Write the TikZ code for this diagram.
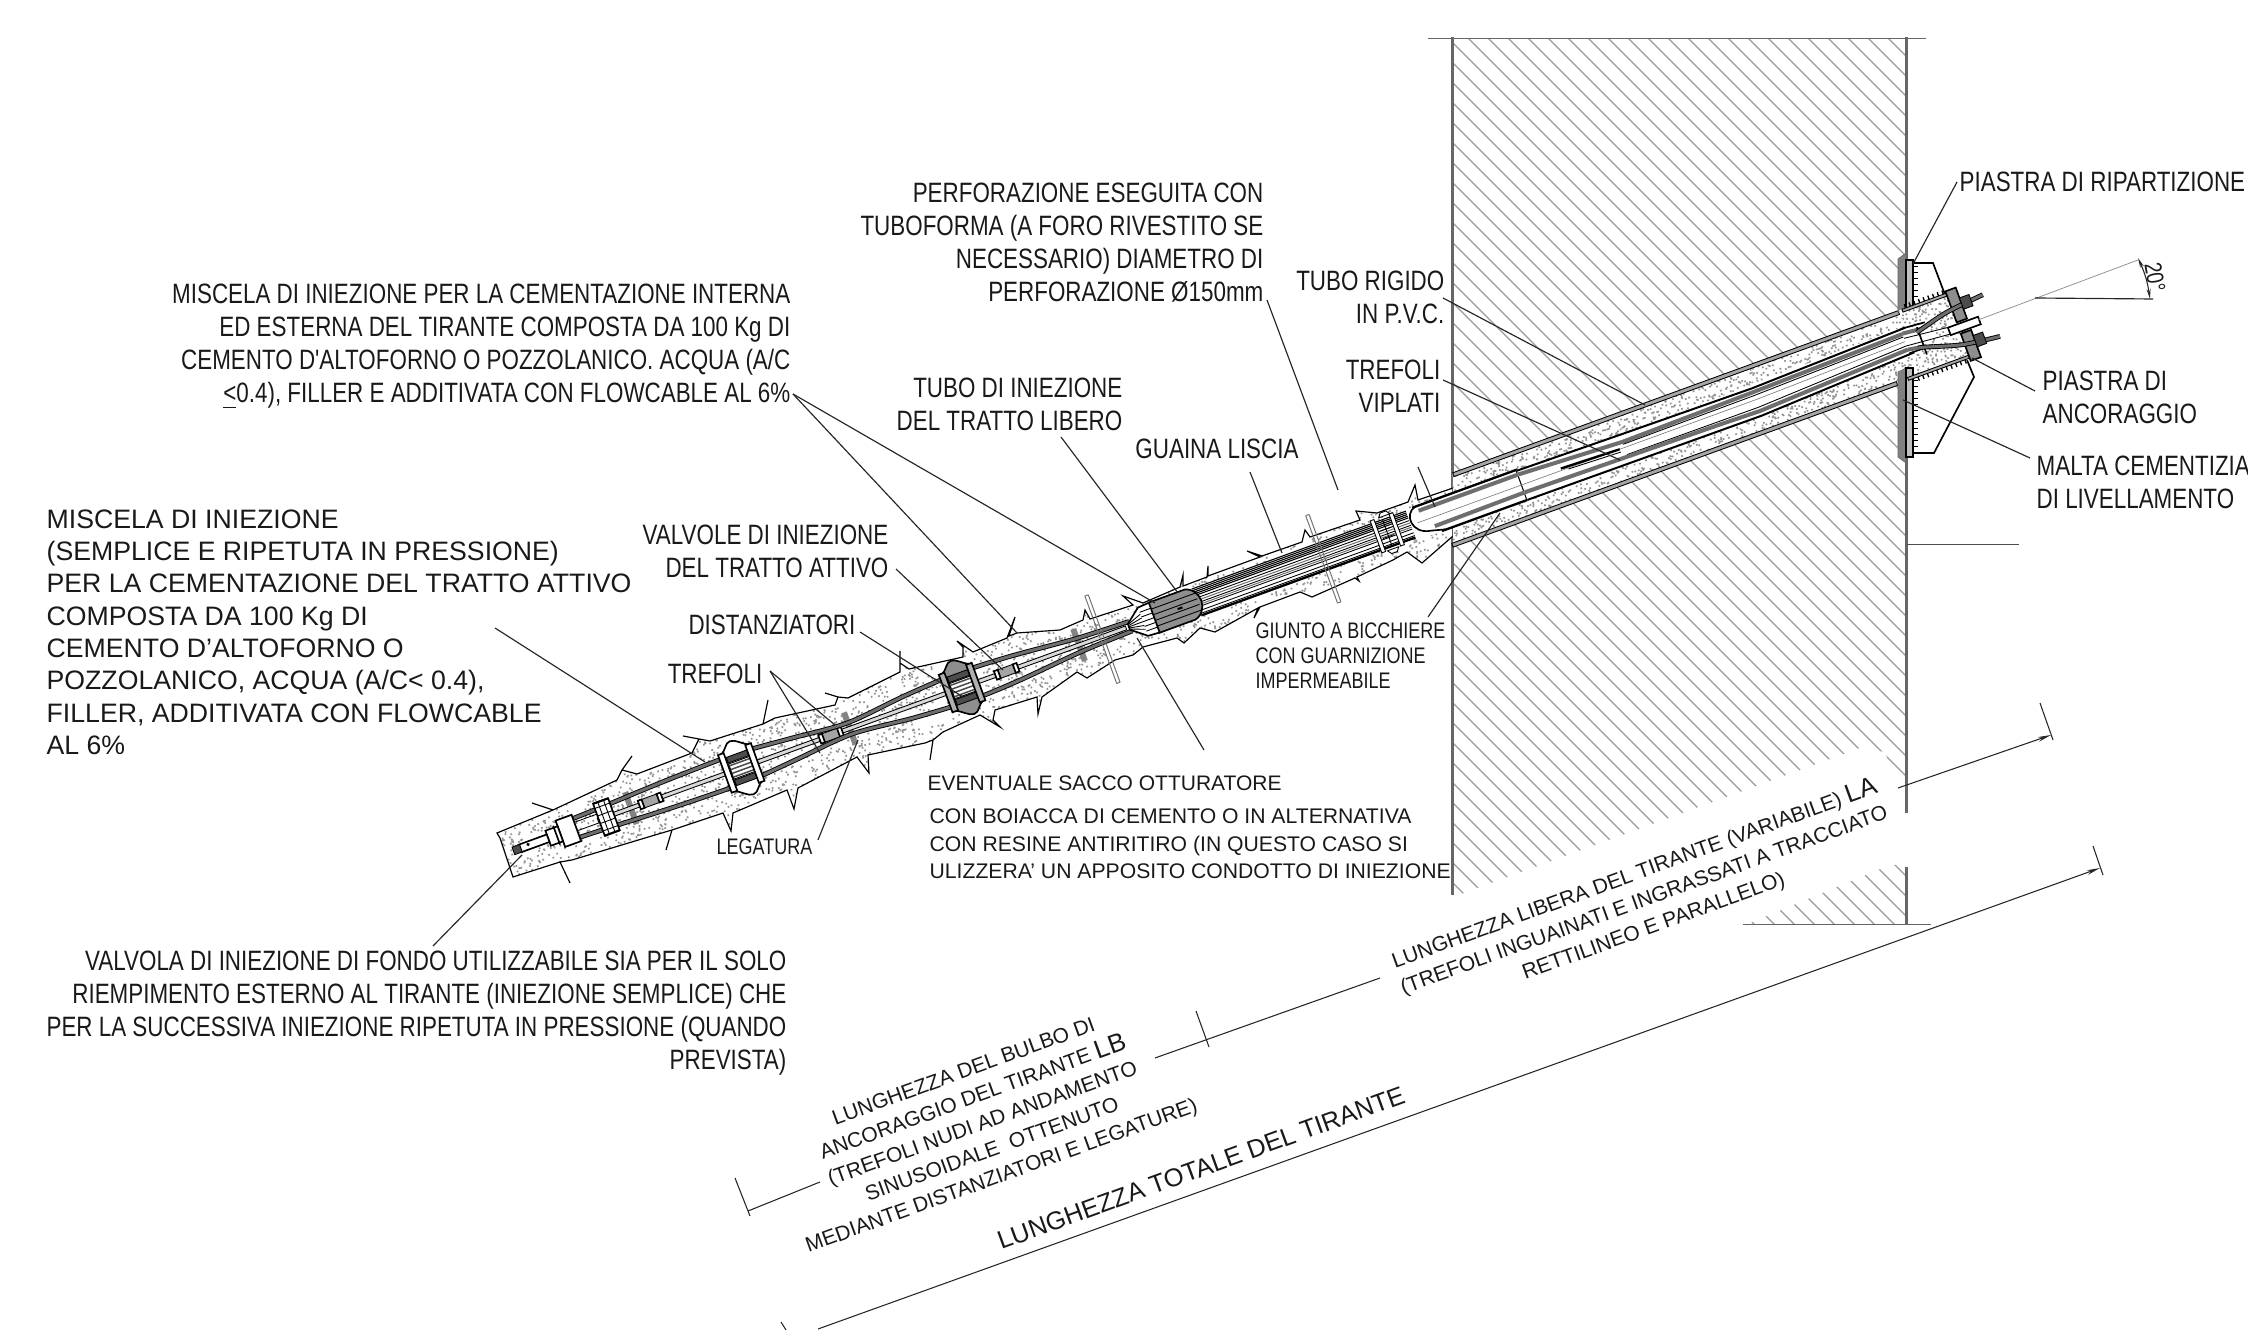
\documentclass[tikz,border=0pt]{standalone}
\usepackage{fontspec}
\setmainfont{Liberation Sans}
\newfontfamily\nf[FakeStretch=0.8]{Liberation Sans}
\usetikzlibrary{arrows.meta}
\newcommand\fnarrow{\nf\fontsize{8.4}{9.9}\selectfont}
\newcommand\fsmall{\nf\fontsize{6.75}{7.5}\selectfont}
\newcommand\fplain{\fontsize{8}{9.7}\selectfont}
\newcommand\fmid{\fontsize{6.3}{8.3}\selectfont}
\definecolor{wallc}{HTML}{666666}
\definecolor{hatchc}{HTML}{999999}
\definecolor{speck}{HTML}{959595}
\definecolor{strandc}{HTML}{6E6E6E}
\definecolor{steelc}{HTML}{8E8E8E}
\tikzset{
  lab/.style={inner sep=0pt,font=\fnarrow,text=black!90},
  labr/.style={lab,align=right,anchor=east},
  labl/.style={lab,align=left,anchor=west},
  leader/.style={draw=black!85,line width=0.35pt},
  wallline/.style={draw=wallc,line width=0.9pt},
  strand/.style={draw=black,line width=0.27pt,double=strandc,double distance=0.9pt},
  thin1/.style={line width=0.26pt,draw=black},
  thick1/.style={line width=0.5pt,draw=black},
  gband/.style={line width=1.2pt,draw=strandc},
  dimline/.style={draw=black!85,line width=0.32pt},
  tiebar/.style={line width=1.8pt,draw=strandc!85},
}
% spacer: #1 position along the axis, #2 fill of lobes, #3 fill of bars
\newcommand\spacerL[3]{%
  \filldraw[fill=#2,thick1] (#1-16,-19) .. controls (#1-8,-22) and (#1-8,-29) .. (#1-2,-29) .. controls (#1+4,-29) and (#1+8,-22) .. (#1+16,-19)
     -- (#1+16,19) .. controls (#1+8,22) and (#1+8,29) .. (#1+2,29) .. controls (#1-4,29) and (#1-8,22) .. (#1-16,19) -- cycle;
  \filldraw[fill=white,thin1] (#1-11,-8) rectangle (#1+11,8);
  \filldraw[fill=black!70,thin1] (#1-11,-15) rectangle (#1+11,-9);
  \filldraw[fill=black!70,thin1] (#1-11,15) rectangle (#1+11,9);
  \foreach \q in {-6,-2,2,6}{\draw[black!70,line width=0.45pt] (#1-11,\q) -- (#1+11,\q);}
  \filldraw[fill=#3,thick1] (#1-18,-20) rectangle (#1-12,20);
  \filldraw[fill=#3,thick1] (#1+11,-20) rectangle (#1+17,20);
}
\newcommand\valveS[1]{%
  \filldraw[fill=steelc!80,thin1] (#1-11,-4.5) rectangle (#1+11,4.5);
  \filldraw[fill=white,thick1] (#1-12,-4.5) rectangle (#1-8,4.5);
  \filldraw[fill=white,thick1] (#1+8,-4.5) rectangle (#1+12,4.5);
}
\def\groutpath{(500,838) -- (497,833) -- (553,810) -- (532,803) -- (553,810) -- (617,780) -- (622,770) -- (632,756) -- (622,770) -- (637,774) -- (692,753) -- (699,739) -- (683,736) -- (699,739) -- (710,741) -- (763,724) -- (768,700) -- (763,724) -- (775,718) -- (835,705) -- (838,697) -- (825,693) -- (838,697) -- (848,698) -- (900,672) -- (900,651) -- (900,663) -- (909,669) -- (963,657) -- (963,647) -- (957,641) -- (973,652) -- (1007,638) -- (1015,617) -- (1009,636) -- (1017,633) -- (1060,630) -- (1083,620) -- (1085,610) -- (1090,619) -- (1133,605) -- (1123,596) -- (1143,603) -- (1180,587) -- (1183,575) -- (1183,586) -- (1207,577) -- (1208,566) -- (1208,576) -- (1260,557) -- (1247,551) -- (1262,556) -- (1302,542) -- (1305,530) -- (1310,537) -- (1360,520) -- (1356,511) -- (1377,513) -- (1408,502) -- (1415,485) -- (1418,500) -- (1453,488) -- (1453,536) -- (1422,563) -- (1407,552) -- (1393,560) -- (1357,577) -- (1359,581) -- (1355,578) -- (1312,597) -- (1300,592) -- (1260,607) -- (1254,618) -- (1258,608) -- (1215,632) -- (1200,628) -- (1184,643) -- (1177,638) -- (1143,647) -- (1133,655) -- (1115,660) -- (1087,678) -- (1077,672) -- (1042,697) -- (1038,714) -- (1037,697) -- (995,710) -- (993,720) -- (1000,727) -- (980,715) -- (943,732) -- (933,740) -- (930,760) -- (933,740) -- (925,743) -- (868,755) -- (869,773) -- (857,757) -- (798,788) -- (794,809) -- (787,790) -- (733,813) -- (731,831) -- (723,813) -- (672,830) -- (666,850) -- (672,830) -- (655,835) -- (572,860) -- (560,862) -- (570,883) -- (560,862) -- (513,877) -- cycle}
\begin{document}
\begin{tikzpicture}[x=0.3pt,y=-0.3pt]
\useasboundingbox (0,0) rectangle (2248,1330);
\pgfmathsetseed{7}
% ---------- wall hatch
\begin{scope}
  \clip (1452,39) -- (1906,39) -- (1906,795) -- (1898,787) -- (1885,752) -- (1860,748) -- (1453,897) -- cycle;
  \foreach \k in {-23,...,44}{
    \pgfmathsetmacro\cc{-1410+20*\k}
    \draw[hatchc,line width=0.33pt] (1452,1452+\cc) -- (1906,1906+\cc);
  }
\end{scope}
\begin{scope}
  \clip (1745,925) -- (1906,925) -- (1906,865) -- (1890,865) -- cycle;
  \foreach \k in {-23,...,44}{
    \pgfmathsetmacro\cc{-1410+20*\k}
    \draw[hatchc,line width=0.33pt] (1452,1452+\cc) -- (1906,1906+\cc);
  }
\end{scope}
% wall lines
\draw[wallline] (1452,37) -- (1452,895);
\draw[wallline] (1906,37) -- (1906,328) (1906,363) -- (1906,813) (1906,867) -- (1906,925);
\draw[draw=black!60,line width=0.3pt] (1428,39) -- (1926,39);
\draw[draw=black!60,line width=0.3pt] (1743,925) -- (1931,925);
\draw[draw=black!70,line width=0.3pt] (1907,545) -- (2019,545);
% ---------- grout, free and bulb part
\fill[white] \groutpath;
\begin{scope}
  \clip \groutpath;
  \begin{scope}[shift={(1906,344)},rotate=20]
    \fill[speck] \foreach \i in {1,...,5000}{
      \pgfextra{\pgfmathsetmacro\aa{rnd*1050-1510}\pgfmathsetmacro\bb{rnd*130-70}}
      (\aa,\bb) rectangle ++(1.7,1.7)};
  \end{scope}
\end{scope}
\draw[thin1,line width=0.35pt] \groutpath;
% ---------- inner parts in axis coordinates
\begin{scope}[shift={(1906,344)},rotate=20]
  % bore in the wall
  \fill[white] (-470,-34) -- (4,-34) -- (4,-20) -- (70,-34) -- (70,38) -- (-22,36) -- (-495,36) -- cycle;
  \begin{scope}
    \clip (-470,-34) -- (4,-34) -- (60,-34) -- (60,36) -- (-495,36) -- cycle;
    \fill[speck] \foreach \i in {1,...,2000}{
      \pgfextra{\pgfmathsetmacro\aa{rnd*570-500}\pgfmathsetmacro\bb{rnd*70-34}}
      (\aa,\bb) rectangle ++(1.7,1.7)};
  \end{scope}
  \filldraw[fill=black!35,thin1] (-470,-34) rectangle (4,-30);
  \filldraw[fill=black!35,thin1] (-495,32) rectangle (-22,36);
  % ties
  \foreach \ss in {-880,-1124,-1357}{\draw[tiebar] (\ss,-17) -- (\ss,17);}
  % central pipe in the bulb
  \draw[thin1,fill=black!15] (-830,-2) rectangle (-1392,2);
  \foreach \ss in {-957,-1144,-1336}{\valveS{\ss}}
  % strands
  \draw[strand] plot[smooth] coordinates {(-825,-5) (-880,-7) (-950,-13) (-1004,-15) (-1060,-12) (-1124,-6) (-1185,-11) (-1239,-15) (-1310,-14) (-1383,-11) (-1415,-10)};
  \draw[strand] plot[smooth] coordinates {(-825,5) (-880,7) (-950,13) (-1004,15) (-1060,12) (-1124,6) (-1185,11) (-1239,15) (-1310,14) (-1383,11) (-1415,10)};
  \spacerL{-1004}{steelc}{steelc!70}
  \spacerL{-1239}{white}{white}
  % bottom assembly
  \filldraw[fill=white,thick1] (-1391,-17) rectangle (-1375,17);
  \draw[black,line width=0.6pt] (-1391,-17) -- (-1375,-17) (-1391,17) -- (-1375,17);
  \foreach \q in {-12,-4,4,12}{\draw[thin1] (-1391,\q) -- (-1375,\q);}
  \foreach \q in {-1386,-1380}{\draw[thin1] (\q,-17) -- (\q,17);}
  \draw[thin1] (-1415,-6) -- (-1391,-6) (-1415,3) -- (-1391,3);
  \filldraw[fill=white,thick1] (-1432,-14) rectangle (-1415,14);
  \filldraw[fill=white,thick1] (-1445,-8) rectangle (-1432,8);
  \draw[thick1] (-1436,-10) -- (-1436,10);
  \filldraw[fill=white,thick1] (-1475,-4) rectangle (-1445,4);
  \filldraw[fill=black!70,thin1] (-1482,-4) rectangle (-1474,4);
  \fill (-1466,-1) circle (1.8);
  % cone
  \filldraw[fill=white,thick1] (-827,-3) -- (-812,-15) -- (-798,-16) -- (-798,16) -- (-812,15) -- (-827,3) -- cycle;
  \foreach \q in {-8,-4,0,4,8}{\draw[thin1] (-827,\q*0.3) -- (-812,\q);}
  \foreach \q in {-10,-5,0,5,10}{\draw[thin1] (-812,\q) -- (-798,\q);}
  % free length tube
  \filldraw[fill=white,draw=none] (-755,-14) rectangle (-527,14);
  \foreach \q in {-14,-12.2,-10.4,-8.6,-6.8}{\draw[thin1,line width=0.33pt] (-755,\q) -- (-527,\q);}
  \foreach \q in {-4,1,5,9,12}{\draw[thin1] (-755,\q) -- (-527,\q);}
  \draw[thick1,line width=0.7pt] (-755,14) -- (-527,14);
  \draw[strandc,line width=0.3pt] (-755,-1.5) -- (-527,-1.5) (-755,3) -- (-527,3);
  % grey block
  \filldraw[fill=steelc,thick1] (-800,-16) -- (-762,-16) .. controls (-753,-14) and (-750,-5) .. (-750,0) .. controls (-750,5) and (-753,14) .. (-762,16) -- (-800,16) -- cycle;
  \foreach \q in {-9,-3,3,9}{\draw[thin1] (-800,\q) -- (-753,\q);}
  \fill (-775,-1) rectangle (-770,1);
  % joint bars
  \filldraw[fill=white,thin1] (-552,-21) -- (-546,-21) -- (-543,-17) -- (-555,-17) -- cycle;
  \filldraw[fill=white,thin1] (-558,17) -- (-546,17) -- (-549,21) -- (-555,21) -- cycle;
  \filldraw[fill=white,thin1] (-564,-17) rectangle (-560,17);
  \filldraw[fill=white,thin1] (-544,-17) rectangle (-540,17);
  \draw[thin1] (-552,-14) -- (-552,14) (-558,-4) -- (-546,-4) (-558,4) -- (-546,4);
  % bell
  \fill[white] (-527,-15) rectangle (-409,17);
  \draw[thick1,line width=0.7pt] (-520,-15) -- (-409,-15) -- (-409,17) -- (-500,17);
  \draw[thick1] (-517,-15) .. controls (-530,-12) and (-530,10) .. (-510,13) -- (-495,17);
  \draw[gband] (-515,-10) -- (-409,-10) (-505,10) -- (-409,9);
  \draw[black!50,line width=0.2pt] (-520,1) -- (-409,1);
  % inner tube to the head
  \fill[white] (-409,-15) -- (-300,-12) -- (0,-17) -- (25,-12) -- (25,12) -- (0,11) -- (-160,18) -- (-409,18) -- cycle;
  \draw[thick1,line width=0.6pt] (-409,-14) -- (-300,-12.5) -- (-160,-11) -- (20,-16);
  \draw[gband] (-409,-10) -- (-300,-5) -- (-160,-7) -- (20,-11);
  \draw[thin1] (-300,-2.5) -- (-160,-3.5) -- (20,-8);
  \draw[black!50,line width=0.2pt] (-409,1) -- (-160,1) -- (20,-3);
  \draw[thin1] (-300,8.5) -- (-160,9) -- (20,1);
  \draw[gband] (-409,9) -- (-203,12) -- (-160,13) -- (20,5);
  \draw[thick1,line width=0.6pt] (-409,17) -- (-160,18) -- (20,10);
  \draw[thick1,line width=0.7pt] (-367,-1) -- (-305,1);
  \draw[thin1] (-360,2) -- (-305,4);
\end{scope}
% ---------- plates
\filldraw[fill=steelc!90!black,draw=black!60,line width=0.2pt] (1898,259) -- (1906,253) -- (1906,310) -- (1898,312) -- cycle;
\filldraw[fill=steelc!90!black,draw=black!60,line width=0.2pt] (1898,372) -- (1906,368) -- (1906,463) -- (1898,457) -- cycle;
\filldraw[fill=black!25,thick1] (1906,260) rectangle (1913,318);
\filldraw[fill=black!25,thick1] (1906,368) rectangle (1913,457);
\foreach \yy in {266,272,...,300}{\draw[thin1] (1913,\yy) -- (1918,\yy);}
\foreach \yy in {380,386,...,450}{\draw[thin1] (1913,\yy) -- (1918,\yy);}
\draw[thick1] (1913,263) -- (1933,263) -- (1947,300);
\draw[thick1] (1913,453) -- (1934,453) -- (1974,377) -- (1967,360);
\begin{scope}[shift={(1906,344)},rotate=20]
  % sleeve
  \fill[white] (5,-34) rectangle (56,36);
  \begin{scope}
    \clip (5,-31) rectangle (56,34);
    \fill[speck] \foreach \i in {1,...,210}{
      \pgfextra{\pgfmathsetmacro\aa{rnd*52+5}\pgfmathsetmacro\bb{rnd*66-32}}
      (\aa,\bb) rectangle ++(1.7,1.7)};
  \end{scope}
  \filldraw[fill=black!35,thin1] (8,-34) rectangle (55,-31);
  \filldraw[fill=black!35,thin1] (-10,32) rectangle (55,35);
  \foreach \q in {12,17,...,52}{\draw[thin1,line width=0.4pt] (\q,-34) -- (\q,-38);}
  \foreach \q in {0,5,...,52}{\draw[thin1,line width=0.4pt] (\q,35) -- (\q,39);}
  % inner tube ends
  \fill[white] (0,-13) rectangle (25,9);
  \draw[thick1] (0,-16) -- (25,-14) (0,10) -- (25,10);
  \draw[gband] (0,-11) -- (20,-9) (0,6) -- (18,9);
  \draw[thin1] (0,-6) -- (47,-1) (0,2) -- (47,6);
  \draw[thick1] (16,-12) -- (16,17);
  % anchor plate
  \filldraw[fill=steelc,thick1] (55,-36) rectangle (66,-3);
  \filldraw[fill=steelc,thick1] (55,9) rectangle (66,38);
  % white pipe
  \filldraw[fill=white,thick1] (45,-1) rectangle (77,7);
  % fan-out strands
  \draw[strand] plot[smooth] coordinates {(14,-7) (21,-9) (50,-16) (89,-20)};
  \draw[strand] plot[smooth] coordinates {(10,8) (17,9.5) (53,20) (91,25)};
  \filldraw[fill=black!70,thin1] (66,-25) rectangle (76,-13);
  \filldraw[fill=black!70,thin1] (66,15) rectangle (76,27);
\end{scope}
% double bars
\begin{scope}[shift={(1906,344)},rotate=20]
  \foreach \ss in {-621,-856}{
    \draw[black!55,line width=0.3pt] (\ss-1.8,-44) -- (\ss-1.8,49) (\ss+1.8,-44) -- (\ss+1.8,49);
    \draw[black!55,line width=0.3pt] (\ss-1.8,-44) -- (\ss+1.8,-44) (\ss-1.8,49) -- (\ss+1.8,49);
  }
\end{scope}
% ---------- 20 degrees
\draw[draw=black!45,line width=0.22pt] (1978,320) -- (2138,260);
\draw[draw=black!85,line width=0.35pt] (2035,298) -- (2153,299);
\coordinate (ang1) at (2138,258);
\coordinate (ang2) at (2150,299);
\draw[dimline,{Stealth[length=3pt,width=1.2pt]}-{Stealth[length=3pt,width=1.2pt]}] (ang1) to[bend left=8] (ang2);
\node[lab,font=\nf\fontsize{7.2}{8}\selectfont,rotate=-80] (ang) at (2155,277) {20°};
% ---------- labels
\node[labr] (blockA) at (791,347) {MISCELA DI INIEZIONE PER LA CEMENTAZIONE INTERNA\\ED ESTERNA DEL TIRANTE COMPOSTA DA 100 Kg DI\\CEMENTO D'ALTOFORNO O POZZOLANICO. ACQUA (A/C\\\underline{<}0.4), FILLER E ADDITIVATA CON FLOWCABLE AL 6\%};
\node[labr] (blockB) at (1264,243) {PERFORAZIONE ESEGUITA CON\\TUBOFORMA (A FORO RIVESTITO SE\\NECESSARIO) DIAMETRO DI\\PERFORAZIONE Ø150mm};
\node[labr] (rigido) at (1445,297.5) {TUBO RIGIDO\\IN P.V.C.};
\node[labr] (viplati) at (1441,386) {TREFOLI\\VIPLATI};
\node[labr] (libero) at (1123,404) {TUBO DI INIEZIONE\\DEL TRATTO LIBERO};
\node[lab] (guaina) at (1217,449) {GUAINA LISCIA};
\node[labr] (valvole) at (889,551) {VALVOLE DI INIEZIONE\\DEL TRATTO ATTIVO};
\node[labr] (dist) at (856,625) {DISTANZIATORI};
\node[labr] (trefoli) at (763,674) {TREFOLI};
\node[labl,font=\fsmall] (legatura) at (716,847) {LEGATURA};
\node[labl,font=\fsmall] (giunto) at (1255,656) {GIUNTO A BICCHIERE\\CON GUARNIZIONE\\IMPERMEABILE};
\node[labl,font=\fmid] (sacco) at (927,783) {EVENTUALE SACCO OTTURATORE};
\node[labl,font=\fontsize{6.35}{8.3}\selectfont] (boiacca) at (929,844) {CON BOIACCA DI CEMENTO O IN ALTERNATIVA\\CON RESINE ANTIRITIRO (IN QUESTO CASO SI\\ULIZZERA' UN APPOSITO CONDOTTO DI INIEZIONE};
\node[labl] (ripart) at (1959,182) {PIASTRA DI RIPARTIZIONE};
\node[labl] (ancor) at (2042,397) {PIASTRA DI\\ANCORAGGIO};
\node[labl] (malta) at (2036,482) {MALTA CEMENTIZIA\\DI LIVELLAMENTO};
\node[labr] (fondo) at (787,1013) {VALVOLA DI INIEZIONE DI FONDO UTILIZZABILE SIA PER IL SOLO\\RIEMPIMENTO ESTERNO AL TIRANTE (INIEZIONE SEMPLICE) CHE\\PER LA SUCCESSIVA INIEZIONE RIPETUTA IN PRESSIONE (QUANDO\\PREVISTA)};
\node[labl,font=\fplain] (attivo) at (46,632) {MISCELA DI INIEZIONE\\(SEMPLICE E RIPETUTA IN PRESSIONE)\\PER LA CEMENTAZIONE DEL TRATTO ATTIVO\\COMPOSTA DA 100 Kg DI\\CEMENTO D'ALTOFORNO O\\POZZOLANICO, ACQUA (A/C< 0.4),\\FILLER, ADDITIVATA CON FLOWCABLE\\AL 6\%};
\node[lab,font=\fmid,align=center,rotate=20] (lunlib) at (1644,900) {LUNGHEZZA LIBERA DEL TIRANTE (VARIABILE) {\fontsize{7.8}{8.3}\selectfont LA}\\(TREFOLI INGUAINATI E INGRASSATI A TRACCIATO\\RETTILINEO E PARALLELO)};
\node[lab,font=\fmid,align=center,rotate=20] (lunbul) at (983,1125) {LUNGHEZZA DEL BULBO DI\\ANCORAGGIO DEL TIRANTE {\fontsize{7.8}{8.3}\selectfont LB}\\(TREFOLI NUDI AD ANDAMENTO\\SINUSOIDALE\ \ OTTENUTO\\MEDIANTE DISTANZIATORI E LEGATURE)};
\node[lab,font=\fontsize{7.65}{9}\selectfont,rotate=20] (luntot) at (1201,1168) {LUNGHEZZA TOTALE DEL TIRANTE};
% ---------- leaders
\coordinate (a0) at (793,394); \coordinate (a1) at (1155,603); \coordinate (a2) at (1017,633);
\draw[leader] (a0) -- (a1); \draw[leader] (a0) -- (a2);
\coordinate (p0) at (1267,300); \coordinate (p1) at (1338,490); \draw[leader] (p0) -- (p1);
\coordinate (r0) at (1443,298); \coordinate (r1) at (1645,405); \draw[leader] (r0) -- (r1);
\coordinate (v0) at (1443,380); \coordinate (v1) at (1620,460); \draw[leader] (v0) -- (v1);
\coordinate (x0) at (1418,467); \coordinate (x1) at (1435,507); \draw[leader] (x0) -- (x1);
\coordinate (l0) at (1061,437); \coordinate (l1) at (1178,593); \draw[leader] (l0) -- (l1);
\coordinate (g0) at (1250,472); \coordinate (g1) at (1282,553); \draw[leader] (g0) -- (g1);
\coordinate (w0) at (896,569); \coordinate (w1) at (1003,670); \draw[leader] (w0) -- (w1);
\coordinate (d0) at (860,632); \coordinate (d1) at (963,697); \draw[leader] (d0) -- (d1);
\coordinate (t0) at (770,671); \coordinate (t1) at (820,753); \coordinate (t2) at (835,725);
\draw[leader] (t0) -- (t1); \draw[leader] (t0) -- (t2);
\coordinate (e0) at (818,840); \coordinate (e1) at (858,740); \draw[leader] (e0) -- (e1);
\coordinate (j0) at (1428,617); \coordinate (j1) at (1500,513); \draw[leader] (j0) -- (j1);
\coordinate (s0) at (1204,750); \coordinate (s1) at (1137,638); \draw[leader] (s0) -- (s1);
\coordinate (m0) at (495,628); \coordinate (m1) at (705,762); \draw[leader] (m0) -- (m1);
\coordinate (f0) at (433,946); \coordinate (f1) at (522,855); \draw[leader] (f0) -- (f1);
\coordinate (h0) at (1957,182); \coordinate (h1) at (1913,264); \draw[leader] (h0) -- (h1);
\coordinate (c0) at (2035,391); \coordinate (c1) at (1972,358); \draw[leader] (c0) -- (c1);
\coordinate (b0) at (2030,458); \coordinate (b1) at (1903,400); \draw[leader] (b0) -- (b1);
% ---------- dimensions
\tikzset{dtip/.style={-{Stealth[length=4pt,width=1.4pt]}}}
\coordinate (d1a) at (748,1211); \coordinate (d1b) at (820,1182);
\coordinate (d2a) at (1155,1058); \coordinate (d2c) at (1203,1040); \coordinate (d2b) at (1380,978);
\coordinate (d3a) at (1898,788); \coordinate (d3b) at (2051,735);
\coordinate (d4a) at (818,1329); \coordinate (d4b) at (2100,868);
\draw[dimline] (d1a) -- (d1b);
\draw[dimline] (d2a) -- (d2b);
\draw[dimline,dtip] (d3a) -- (d3b);
\draw[dimline,dtip] (d4a) -- (d4b);
\draw[dimline] (735,1178) -- (750,1216);
\draw[dimline] (1196,1011) -- (1209,1047);
\draw[dimline] (2040,703) -- (2053,740);
\draw[dimline] (2093,846) -- (2103,875);
\draw[dimline] (781,1322) -- (786,1330);
\end{tikzpicture}
\end{document}
